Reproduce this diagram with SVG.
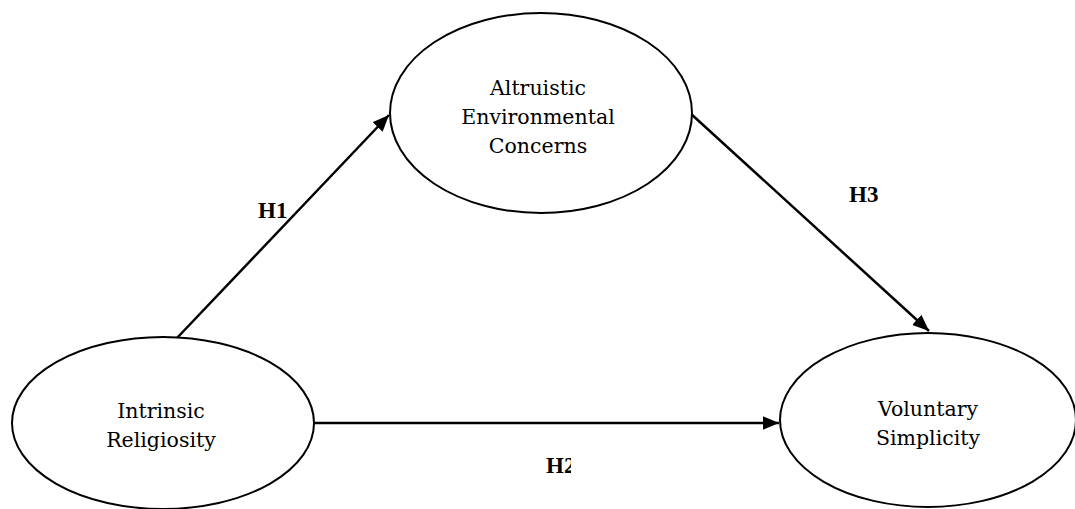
<svg xmlns="http://www.w3.org/2000/svg" width="1075" height="509" viewBox="0 0 1075 509">
<style>
.node{fill:#fff;stroke:#000;stroke-width:2}
.lbl{font-family:"DejaVu Serif","Liberation Serif",serif;font-size:20.5px;fill:#000;text-anchor:middle}
.h{font-family:"Liberation Serif",serif;font-size:23px;font-weight:bold;fill:#000}
.edge{stroke:#000;stroke-width:2.5;fill:none}
</style>
<defs>
<marker id="arr" viewBox="0 0 12 10" refX="12" refY="5" markerWidth="6.6" markerHeight="5.5" markerUnits="strokeWidth" orient="auto">
<path d="M0,0 L12,5 L0,10 z" fill="#000"/>
</marker>
<clipPath id="h2clip"><rect x="540" y="450" width="31" height="30"/></clipPath>
</defs>
<g id="connectors">
<line class="edge" x1="177" y1="338" x2="389" y2="115" marker-end="url(#arr)"/>
<line class="edge" x1="313" y1="423" x2="779" y2="423" marker-end="url(#arr)"/>
<line class="edge" x1="690" y1="113" x2="929" y2="331" marker-end="url(#arr)"/>
<text class="h" x="258" y="218">H1</text>
<text class="h" x="546" y="473" clip-path="url(#h2clip)">H2</text>
<text class="h" x="849" y="202">H3</text>
</g>
<g id="altruistic">
<ellipse class="node" cx="541" cy="113" rx="151" ry="100"/>
<text class="lbl" x="538" y="95">Altruistic</text>
<text class="lbl" x="538" y="124">Environmental</text>
<text class="lbl" x="538" y="153">Concerns</text>
</g>
<g id="intrinsic">
<ellipse class="node" cx="163" cy="423" rx="151" ry="86"/>
<text class="lbl" x="161" y="418">Intrinsic</text>
<text class="lbl" x="161" y="447">Religiosity</text>
</g>
<g id="voluntary">
<ellipse class="node" cx="928" cy="420" rx="148" ry="87"/>
<text class="lbl" x="928" y="416">Voluntary</text>
<text class="lbl" x="928" y="445">Simplicity</text>
</g>
</svg>
